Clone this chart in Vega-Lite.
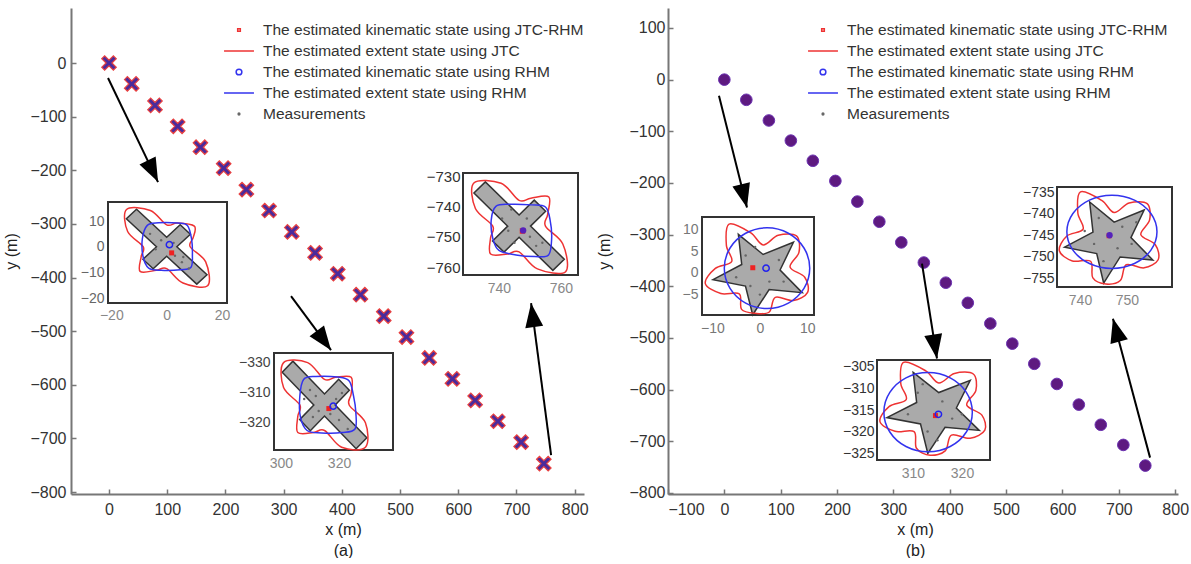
{
"$schema": "https://vega.github.io/schema/vega-lite/v6.json",
"background": "white",
"padding": {"left": 3, "top": 8, "right": 0, "bottom": 0},
"bounds": "flush",
"spacing": 84,
"datasets": {
"traj": [{"x":0,"y":0},{"x":39,"y":-39},{"x":79,"y":-79},{"x":118,"y":-118},{"x":157,"y":-157},{"x":197,"y":-196},{"x":236,"y":-236},{"x":275,"y":-275},{"x":314,"y":-315},{"x":354,"y":-354},{"x":393,"y":-393},{"x":432,"y":-432},{"x":472,"y":-472},{"x":511,"y":-511},{"x":550,"y":-550},{"x":590,"y":-589},{"x":629,"y":-629},{"x":668,"y":-668},{"x":708,"y":-707},{"x":747,"y":-747}],
"arrowsA": [{"arrow":"a1","k":0,"x":-1.7,"y":-28},{"arrow":"a1","k":1,"x":84.2,"y":-222},{"arrow":"a2","k":0,"x":312.7,"y":-434.7},{"arrow":"a2","k":1,"x":381.4,"y":-535.4},{"arrow":"a3","k":0,"x":759.5,"y":-731},{"arrow":"a3","k":1,"x":725.1,"y":-447.8}],
"headsA": [{"arrow":"a1","x":75.3,"y":-201.9},{"arrow":"a2","x":369.2,"y":-517.5},{"arrow":"a3","x":727.8,"y":-470}],
"arrowsB": [{"arrow":"b1","k":0,"x":-9.6,"y":-31},{"arrow":"b1","k":1,"x":40.1,"y":-247.6},{"arrow":"b2","k":0,"x":350.7,"y":-356.1},{"arrow":"b2","k":1,"x":377.3,"y":-539.7},{"arrow":"b3","k":0,"x":755.4,"y":-731.6},{"arrow":"b3","k":1,"x":689.6,"y":-462.6}],
"headsB": [{"arrow":"b1","x":35,"y":-225.3},{"arrow":"b2","x":373.9,"y":-516.6},{"arrow":"b3","x":695.1,"y":-484.7}],
"legend": [{"series":"The estimated kinematic state using JTC-RHM"},{"series":"The estimated extent state using JTC"},{"series":"The estimated kinematic state using RHM"},{"series":"The estimated extent state using RHM"},{"series":"Measurements"}],
"a1": [
{"part":"box","x":-21.2,"x2":21.8,"y":-21.9,"y2":17.4},
{"part":"shape","i":0,"x":10.89,"y":-14.57},{"part":"shape","i":1,"x":14.57,"y":-10.89},{"part":"shape","i":2,"x":3.68,"y":0},{"part":"shape","i":3,"x":8.56,"y":4.88},{"part":"shape","i":4,"x":4.88,"y":8.56},{"part":"shape","i":5,"x":0,"y":3.68},{"part":"shape","i":6,"x":-10.89,"y":14.57},{"part":"shape","i":7,"x":-14.57,"y":10.89},{"part":"shape","i":8,"x":-3.68,"y":0},{"part":"shape","i":9,"x":-8.56,"y":-4.88},{"part":"shape","i":10,"x":-4.88,"y":-8.56},{"part":"shape","i":11,"x":0,"y":-3.68},
{"part":"red","i":0,"x":14.8,"y":-15.2},{"part":"red","i":1,"x":14.1,"y":-5.9},{"part":"red","i":2,"x":8.5,"y":0},{"part":"red","i":3,"x":9.6,"y":3.6},{"part":"red","i":4,"x":10,"y":8},{"part":"red","i":5,"x":3.8,"y":9.2},{"part":"red","i":6,"x":0,"y":8.5},{"part":"red","i":7,"x":-5.9,"y":14.1},{"part":"red","i":8,"x":-14.5,"y":14.5},{"part":"red","i":9,"x":-14.1,"y":5.9},{"part":"red","i":10,"x":-8.5,"y":0},{"part":"red","i":11,"x":-9.2,"y":-3.8},{"part":"red","i":12,"x":-9.6,"y":-9.6},{"part":"red","i":13,"x":-3.8,"y":-9.2},{"part":"red","i":14,"x":0,"y":-8.5},{"part":"red","i":15,"x":5.9,"y":-14.1},
{"part":"blue","i":0,"x":9.3,"y":-3},{"part":"blue","i":1,"x":9,"y":3},{"part":"blue","i":2,"x":7.5,"y":8.3},{"part":"blue","i":3,"x":4,"y":9.2},{"part":"blue","i":4,"x":-3,"y":9.3},{"part":"blue","i":5,"x":-7,"y":8.3},{"part":"blue","i":6,"x":-8.8,"y":3},{"part":"blue","i":7,"x":-8.5,"y":-4},{"part":"blue","i":8,"x":-6.5,"y":-8.3},{"part":"blue","i":9,"x":-2,"y":-9.2},{"part":"blue","i":10,"x":5,"y":-9},{"part":"blue","i":11,"x":8.8,"y":-8},
{"part":"meas","x":3,"y":-3.5},{"part":"meas","x":5.5,"y":-6},{"part":"meas","x":8,"y":-8.5},{"part":"meas","x":-2,"y":2.5},{"part":"meas","x":2.5,"y":1.5},{"part":"meas","x":-4,"y":-1},{"part":"meas","x":6,"y":-4},{"part":"meas","x":-6,"y":5},
{"part":"kr","x":1.8,"y":-2.4},{"part":"kb","x":1,"y":0.8}
],
"a2": [
{"part":"box","x":297.6,"x2":338.6,"y":-329,"y2":-296.7},
{"part":"shape","i":0,"x":325.89,"y":-328.57},{"part":"shape","i":1,"x":329.57,"y":-324.89},{"part":"shape","i":2,"x":318.68,"y":-314},{"part":"shape","i":3,"x":323.56,"y":-309.12},{"part":"shape","i":4,"x":319.88,"y":-305.44},{"part":"shape","i":5,"x":315,"y":-310.32},{"part":"shape","i":6,"x":304.11,"y":-299.43},{"part":"shape","i":7,"x":300.43,"y":-303.11},{"part":"shape","i":8,"x":311.32,"y":-314},{"part":"shape","i":9,"x":306.44,"y":-318.88},{"part":"shape","i":10,"x":310.12,"y":-322.56},{"part":"shape","i":11,"x":315,"y":-317.68},
{"part":"red","i":0,"x":329.1,"y":-328.1},{"part":"red","i":1,"x":329.1,"y":-319.9},{"part":"red","i":2,"x":323.5,"y":-314},{"part":"red","i":3,"x":324.2,"y":-310.2},{"part":"red","i":4,"x":324.2,"y":-304.8},{"part":"red","i":5,"x":318.8,"y":-304.8},{"part":"red","i":6,"x":315,"y":-305.5},{"part":"red","i":7,"x":309.2,"y":-299.9},{"part":"red","i":8,"x":300.9,"y":-299.9},{"part":"red","i":9,"x":300.9,"y":-308.2},{"part":"red","i":10,"x":306.5,"y":-314},{"part":"red","i":11,"x":305.8,"y":-317.8},{"part":"red","i":12,"x":305.8,"y":-323.2},{"part":"red","i":13,"x":311.2,"y":-323.2},{"part":"red","i":14,"x":315,"y":-322.5},{"part":"red","i":15,"x":320.9,"y":-328.1},
{"part":"blue","i":0,"x":319.5,"y":-304.7},{"part":"blue","i":1,"x":312,"y":-304.5},{"part":"blue","i":2,"x":307.8,"y":-305.5},{"part":"blue","i":3,"x":306.5,"y":-311},{"part":"blue","i":4,"x":306.7,"y":-318},{"part":"blue","i":5,"x":309,"y":-322.5},{"part":"blue","i":6,"x":314,"y":-323.3},{"part":"blue","i":7,"x":321,"y":-323.2},{"part":"blue","i":8,"x":325.5,"y":-322},{"part":"blue","i":9,"x":325.8,"y":-316.5},{"part":"blue","i":10,"x":325,"y":-311},{"part":"blue","i":11,"x":323.5,"y":-306},
{"part":"meas","x":310,"y":-309},{"part":"meas","x":312,"y":-311},{"part":"meas","x":317,"y":-317},{"part":"meas","x":320,"y":-319},{"part":"meas","x":323,"y":-322},{"part":"meas","x":308,"y":-312},{"part":"meas","x":313,"y":-316},{"part":"meas","x":319,"y":-312},{"part":"meas","x":311,"y":-318},{"part":"meas","x":321,"y":-310},
{"part":"kr","x":316.5,"y":-315.2},{"part":"kb","x":318,"y":-314.4}
],
"a3": [
{"part":"box","x":728.4,"x2":765.5,"y":-762.6,"y2":-729},
{"part":"shape","i":0,"x":757.39,"y":-761.07},{"part":"shape","i":1,"x":761.07,"y":-757.39},{"part":"shape","i":2,"x":750.18,"y":-746.5},{"part":"shape","i":3,"x":755.06,"y":-741.62},{"part":"shape","i":4,"x":751.38,"y":-737.94},{"part":"shape","i":5,"x":746.5,"y":-742.82},{"part":"shape","i":6,"x":735.61,"y":-731.93},{"part":"shape","i":7,"x":731.93,"y":-735.61},{"part":"shape","i":8,"x":742.82,"y":-746.5},{"part":"shape","i":9,"x":737.94,"y":-751.38},{"part":"shape","i":10,"x":741.62,"y":-755.06},{"part":"shape","i":11,"x":746.5,"y":-750.18},
{"part":"red","i":0,"x":761.5,"y":-761.5},{"part":"red","i":1,"x":760.6,"y":-752.4},{"part":"red","i":2,"x":755,"y":-746.5},{"part":"red","i":3,"x":755.7,"y":-742.7},{"part":"red","i":4,"x":756.1,"y":-736.9},{"part":"red","i":5,"x":750.3,"y":-737.3},{"part":"red","i":6,"x":746.5,"y":-738},{"part":"red","i":7,"x":740.7,"y":-732.4},{"part":"red","i":8,"x":731.9,"y":-732.3},{"part":"red","i":9,"x":732.4,"y":-740.7},{"part":"red","i":10,"x":738,"y":-746.5},{"part":"red","i":11,"x":737.3,"y":-750.3},{"part":"red","i":12,"x":737.3,"y":-755.7},{"part":"red","i":13,"x":742.7,"y":-755.7},{"part":"red","i":14,"x":746.5,"y":-755},{"part":"red","i":15,"x":752.4,"y":-760.6},
{"part":"blue","i":0,"x":750.5,"y":-739.5},{"part":"blue","i":1,"x":743.5,"y":-739.3},{"part":"blue","i":2,"x":739,"y":-740},{"part":"blue","i":3,"x":737.5,"y":-744.5},{"part":"blue","i":4,"x":738,"y":-750.5},{"part":"blue","i":5,"x":740,"y":-754.5},{"part":"blue","i":6,"x":745.5,"y":-756},{"part":"blue","i":7,"x":751.5,"y":-756.5},{"part":"blue","i":8,"x":756,"y":-756},{"part":"blue","i":9,"x":757,"y":-750.5},{"part":"blue","i":10,"x":756.5,"y":-744.5},{"part":"blue","i":11,"x":755,"y":-740.2},
{"part":"meas","x":744,"y":-741},{"part":"meas","x":749,"y":-744},{"part":"meas","x":752,"y":-753},{"part":"meas","x":754,"y":-752},{"part":"meas","x":741,"y":-744},{"part":"meas","x":745,"y":-752},{"part":"meas","x":750,"y":-750},{"part":"meas","x":743,"y":-748},
{"part":"kr","x":747.6,"y":-748.1},{"part":"kb","x":747.8,"y":-747.9}
],
"b1": [
{"part":"box","x":-12.2,"x2":11.4,"y":-9.7,"y2":12.9},
{"part":"shape","i":0,"x":-4.54,"y":8.91},{"part":"shape","i":1,"x":0.67,"y":4.25},{"part":"shape","i":2,"x":7.07,"y":7.07},{"part":"shape","i":3,"x":4.25,"y":0.67},{"part":"shape","i":4,"x":8.91,"y":-4.54},{"part":"shape","i":5,"x":1.95,"y":-3.83},{"part":"shape","i":6,"x":-1.52,"y":-9.65},{"part":"shape","i":7,"x":-3.04,"y":-3.04},{"part":"shape","i":8,"x":-9.88,"y":-1.56},{"part":"shape","i":9,"x":-3.83,"y":1.95},
{"part":"red","i":0,"x":-6.5,"y":11.26},{"part":"red","i":1,"x":-7.06,"y":6.36},{"part":"red","i":2,"x":-5.94,"y":2.64},{"part":"red","i":3,"x":-9.45,"y":0.99},{"part":"red","i":4,"x":-11.5,"y":-2.45},{"part":"red","i":5,"x":-8.23,"y":-4.75},{"part":"red","i":6,"x":-4.35,"y":-4.83},{"part":"red","i":7,"x":-3.86,"y":-8.4},{"part":"red","i":8,"x":-0.99,"y":-9.3},{"part":"red","i":9,"x":1.98,"y":-9},{"part":"red","i":10,"x":3.25,"y":-5.63},{"part":"red","i":11,"x":7.06,"y":-6.36},{"part":"red","i":12,"x":10.05,"y":-4.47},{"part":"red","i":13,"x":9.45,"y":-0.99},{"part":"red","i":14,"x":6.36,"y":1.35},{"part":"red","i":15,"x":8.23,"y":4.75},{"part":"red","i":16,"x":7.7,"y":8.55},{"part":"red","i":17,"x":3.86,"y":8.68},{"part":"red","i":18,"x":0.68,"y":6.47},{"part":"red","i":19,"x":-1.98,"y":9.29},
{"part":"blue","i":0,"x":10.5,"y":1.1},{"part":"blue","i":1,"x":9.29,"y":5.75},{"part":"blue","i":2,"x":6,"y":9.15},{"part":"blue","i":3,"x":1.5,"y":10.4},{"part":"blue","i":4,"x":-3,"y":9.15},{"part":"blue","i":5,"x":-6.29,"y":5.75},{"part":"blue","i":6,"x":-7.5,"y":1.1},{"part":"blue","i":7,"x":-6.29,"y":-3.55},{"part":"blue","i":8,"x":-3,"y":-6.95},{"part":"blue","i":9,"x":1.5,"y":-8.2},{"part":"blue","i":10,"x":6,"y":-6.95},{"part":"blue","i":11,"x":9.29,"y":-3.55},
{"part":"meas","x":-3,"y":4},{"part":"meas","x":2,"y":-2},{"part":"meas","x":-5,"y":-1},{"part":"meas","x":4,"y":3},{"part":"meas","x":0,"y":-5},{"part":"meas","x":-1,"y":6},{"part":"meas","x":5,"y":-2},{"part":"meas","x":-2,"y":-3},
{"part":"kr","x":-1.5,"y":1.2},{"part":"kb","x":1.3,"y":1.1}
],
"b2": [
{"part":"box","x":302.7,"x2":325.7,"y":-326.6,"y2":-303.4},
{"part":"shape","i":0,"x":310.06,"y":-306.29},{"part":"shape","i":1,"x":315.27,"y":-310.95},{"part":"shape","i":2,"x":321.67,"y":-308.13},{"part":"shape","i":3,"x":318.85,"y":-314.53},{"part":"shape","i":4,"x":323.51,"y":-319.74},{"part":"shape","i":5,"x":316.55,"y":-319.03},{"part":"shape","i":6,"x":313.04,"y":-325.08},{"part":"shape","i":7,"x":311.56,"y":-318.24},{"part":"shape","i":8,"x":304.72,"y":-316.76},{"part":"shape","i":9,"x":310.77,"y":-313.25},
{"part":"red","i":0,"x":308.1,"y":-303.94},{"part":"red","i":1,"x":307.54,"y":-308.84},{"part":"red","i":2,"x":308.66,"y":-312.56},{"part":"red","i":3,"x":305.15,"y":-314.21},{"part":"red","i":4,"x":303.3,"y":-317.7},{"part":"red","i":5,"x":306.37,"y":-319.95},{"part":"red","i":6,"x":310.25,"y":-320.03},{"part":"red","i":7,"x":310.74,"y":-323.88},{"part":"red","i":8,"x":313.5,"y":-325.5},{"part":"red","i":9,"x":316.58,"y":-324.49},{"part":"red","i":10,"x":317.85,"y":-320.83},{"part":"red","i":11,"x":321.66,"y":-321.56},{"part":"red","i":12,"x":324.65,"y":-319.67},{"part":"red","i":13,"x":324.05,"y":-316.19},{"part":"red","i":14,"x":320.96,"y":-313.85},{"part":"red","i":15,"x":322.83,"y":-310.45},{"part":"red","i":16,"x":322.3,"y":-306.65},{"part":"red","i":17,"x":318.46,"y":-306.52},{"part":"red","i":18,"x":315.28,"y":-308.73},{"part":"red","i":19,"x":312.62,"y":-305.91},
{"part":"blue","i":0,"x":322.1,"y":-315.5},{"part":"blue","i":1,"x":320.89,"y":-310.9},{"part":"blue","i":2,"x":317.6,"y":-307.53},{"part":"blue","i":3,"x":313.1,"y":-306.3},{"part":"blue","i":4,"x":308.6,"y":-307.53},{"part":"blue","i":5,"x":305.31,"y":-310.9},{"part":"blue","i":6,"x":304.1,"y":-315.5},{"part":"blue","i":7,"x":305.31,"y":-320.1},{"part":"blue","i":8,"x":308.6,"y":-323.47},{"part":"blue","i":9,"x":313.1,"y":-324.7},{"part":"blue","i":10,"x":317.6,"y":-323.47},{"part":"blue","i":11,"x":320.89,"y":-320.1},
{"part":"meas","x":311,"y":-311},{"part":"meas","x":316,"y":-313},{"part":"meas","x":318,"y":-317},{"part":"meas","x":313,"y":-320},{"part":"meas","x":309,"y":-316},{"part":"meas","x":320,"y":-316},{"part":"meas","x":315,"y":-322},{"part":"meas","x":312,"y":-309},
{"part":"kr","x":314.6,"y":-316.3},{"part":"kb","x":315.2,"y":-316}
],
"b3": [
{"part":"box","x":735.1,"x2":759.6,"y":-757,"y2":-733.8},
{"part":"shape","i":0,"x":742.06,"y":-737.29},{"part":"shape","i":1,"x":747.27,"y":-741.95},{"part":"shape","i":2,"x":753.67,"y":-739.13},{"part":"shape","i":3,"x":750.85,"y":-745.53},{"part":"shape","i":4,"x":755.51,"y":-750.74},{"part":"shape","i":5,"x":748.55,"y":-750.03},{"part":"shape","i":6,"x":745.04,"y":-756.08},{"part":"shape","i":7,"x":743.56,"y":-749.24},{"part":"shape","i":8,"x":736.72,"y":-747.76},{"part":"shape","i":9,"x":742.77,"y":-744.25},
{"part":"red","i":0,"x":740.1,"y":-734.94},{"part":"red","i":1,"x":739.54,"y":-739.84},{"part":"red","i":2,"x":740.66,"y":-743.56},{"part":"red","i":3,"x":737.15,"y":-745.21},{"part":"red","i":4,"x":735.6,"y":-748.6},{"part":"red","i":5,"x":738.37,"y":-750.95},{"part":"red","i":6,"x":742.25,"y":-751.03},{"part":"red","i":7,"x":742.74,"y":-754.88},{"part":"red","i":8,"x":745.5,"y":-756.3},{"part":"red","i":9,"x":748.58,"y":-755.49},{"part":"red","i":10,"x":749.85,"y":-751.83},{"part":"red","i":11,"x":753.66,"y":-752.56},{"part":"red","i":12,"x":756.65,"y":-750.67},{"part":"red","i":13,"x":756.05,"y":-747.19},{"part":"red","i":14,"x":752.96,"y":-744.85},{"part":"red","i":15,"x":754.83,"y":-741.45},{"part":"red","i":16,"x":754.3,"y":-737.65},{"part":"red","i":17,"x":750.46,"y":-737.52},{"part":"red","i":18,"x":747.28,"y":-739.73},{"part":"red","i":19,"x":744.62,"y":-736.91},
{"part":"blue","i":0,"x":756.4,"y":-744.2},{"part":"blue","i":1,"x":755.11,"y":-739.95},{"part":"blue","i":2,"x":751.6,"y":-736.84},{"part":"blue","i":3,"x":746.8,"y":-735.7},{"part":"blue","i":4,"x":742,"y":-736.84},{"part":"blue","i":5,"x":738.49,"y":-739.95},{"part":"blue","i":6,"x":737.2,"y":-744.2},{"part":"blue","i":7,"x":738.49,"y":-748.45},{"part":"blue","i":8,"x":742,"y":-751.56},{"part":"blue","i":9,"x":746.8,"y":-752.7},{"part":"blue","i":10,"x":751.6,"y":-751.56},{"part":"blue","i":11,"x":755.11,"y":-748.45},
{"part":"meas","x":744,"y":-741},{"part":"meas","x":749,"y":-743},{"part":"meas","x":748,"y":-748},{"part":"meas","x":743,"y":-747},{"part":"meas","x":751,"y":-747},{"part":"meas","x":745,"y":-751},{"part":"meas","x":741,"y":-744},{"part":"meas","x":752,"y":-742},
{"part":"kr","x":746.2,"y":-745.1},{"part":"kb","x":746.3,"y":-745}
]
},
"hconcat": [
{
"width": 513, "height": 486,
"resolve": {"scale": {"x": "independent", "y": "independent"}},
"layer": [
{
"encoding": {
"x": {"field": "x", "type": "quantitative", "scale": {"domain": [-65.3, 816], "nice": false, "zero": false},
 "axis": {"values": [0,100,200,300,400,500,600,700,800], "title": ["x (m)", "(a)"], "titleX": 272, "labelFontSize": 16, "labelColor": "#333", "domainColor": "#777", "domainWidth": 2, "tickColor": "#777", "tickSize": -5, "tickWidth": 1.5, "labelPadding": 12, "titleFontSize": 16, "titleFontWeight": "normal", "titleColor": "#222", "titleLineHeight": 21, "titlePadding": 4, "grid": false}},
"y": {"field": "y", "type": "quantitative", "scale": {"domain": [-803.7, 102.6], "nice": false, "zero": false},
 "axis": {"values": [0,-100,-200,-300,-400,-500,-600,-700,-800], "title": "y (m)", "labelFontSize": 16, "labelColor": "#333", "domainColor": "#777", "domainWidth": 2, "tickColor": "#777", "tickSize": -5, "tickWidth": 1.5, "labelPadding": 10, "titleFontSize": 16, "titleFontWeight": "normal", "titleColor": "#222", "titlePadding": 10, "grid": false}}
},
"layer": [
{"data": {"name": "traj"}, "mark": {"type": "point", "shape": "M-1,-0.6L-0.6,-1L0,-0.4L0.6,-1L1,-0.6L0.4,0L1,0.6L0.6,1L0,0.4L-0.6,1L-1,0.6L-0.4,0Z", "size": 210, "filled": true, "fill": "#4b2b9b", "stroke": "#e84040", "strokeWidth": 1.2, "opacity": 1}},
{"data": {"name": "arrowsA"}, "mark": {"type": "line", "stroke": "black", "strokeWidth": 2}, "encoding": {"detail": {"field": "arrow", "type": "nominal"}, "order": {"field": "k", "type": "quantitative"}}},
{"data": {"name": "headsA"}, "transform": [{"filter": "datum.arrow == 'a1'"}], "mark": {"type": "point", "shape": "M0,-1L0.75,1L-0.75,1Z", "size": 576, "angle": 154, "filled": true, "color": "black", "opacity": 1}},
{"data": {"name": "headsA"}, "transform": [{"filter": "datum.arrow == 'a2'"}], "mark": {"type": "point", "shape": "M0,-1L0.75,1L-0.75,1Z", "size": 576, "angle": 143.5, "filled": true, "color": "black", "opacity": 1}},
{"data": {"name": "headsA"}, "transform": [{"filter": "datum.arrow == 'a3'"}], "mark": {"type": "point", "shape": "M0,-1L0.75,1L-0.75,1Z", "size": 576, "angle": -7.5, "filled": true, "color": "black", "opacity": 1}},
{"data": {"name": "legend"}, "transform": [{"filter": "false"}], "mark": {"type": "point", "filled": false, "strokeWidth": 1.5, "size": 484, "opacity": 1},
 "encoding": {
  "color": {"field": "series", "type": "nominal", "scale": {"domain": ["The estimated kinematic state using JTC-RHM","The estimated extent state using JTC","The estimated kinematic state using RHM","The estimated extent state using RHM","Measurements"], "range": ["#ee3333","#ee3333","#3333ee","#3333ee","#666666"]}, "legend": {"orient": "none", "legendX": 156, "legendY": 10, "title": null, "symbolSize": 484}},
  "shape": {"field": "series", "type": "nominal", "scale": {"domain": ["The estimated kinematic state using JTC-RHM","The estimated extent state using JTC","The estimated kinematic state using RHM","The estimated extent state using RHM","Measurements"], "range": ["M-0.12,-0.12L0.12,-0.12L0.12,0.12L-0.12,0.12Z","M-1.36,0L1.36,0","M0.26,0A0.26,0.26 0 1,1 -0.26,0A0.26,0.26 0 1,1 0.26,0Z","M-1.36,0L1.36,0","M0.08,0A0.08,0.08 0 1,1 -0.08,0A0.08,0.08 0 1,1 0.08,0Z"]}, "legend": {"orient": "none", "legendX": 156, "legendY": 10, "title": null, "symbolSize": 484}}
 }}
]
},
{
"data": {"name": "a1"},
"encoding": {
"x": {"field": "x", "type": "quantitative", "scale": {"domain": [-21.2, 21.8], "range": [37, 156], "nice": false, "zero": false}, "axis": {"orient": "bottom", "offset": -191, "values": [-20,0,20], "domain": false, "ticks": false, "grid": false, "labelPadding": 5, "labelColor": "#888", "labelFontSize": 14, "title": null}},
"y": {"field": "y", "type": "quantitative", "scale": {"domain": [-21.9, 17.4], "range": [295, 194], "nice": false, "zero": false}, "axis": {"orient": "left", "offset": -37, "values": [10,0,-10,-20], "domain": false, "ticks": false, "grid": false, "labelPadding": 4, "labelColor": "#666", "labelFontSize": 14, "title": null}}
},
"layer": [
{"transform": [{"filter": "datum.part == 'box'"}], "mark": {"type": "rect", "fill": "white", "stroke": "#333", "strokeWidth": 2}, "encoding": {"x2": {"field": "x2"}, "y2": {"field": "y2"}}},
{"transform": [{"filter": "datum.part == 'shape'"}], "mark": {"type": "line", "interpolate": "linear-closed", "fill": "#aaaaaa", "stroke": "#333", "strokeWidth": 1.5}, "encoding": {"order": {"field": "i", "type": "quantitative"}}},
{"transform": [{"filter": "datum.part == 'red'"}], "mark": {"type": "line", "interpolate": "cardinal-closed", "stroke": "#ee3333", "strokeWidth": 1.5}, "encoding": {"order": {"field": "i", "type": "quantitative"}}},
{"transform": [{"filter": "datum.part == 'blue'"}], "mark": {"type": "line", "interpolate": "cardinal-closed", "stroke": "#3333ee", "strokeWidth": 1.5}, "encoding": {"order": {"field": "i", "type": "quantitative"}}},
{"transform": [{"filter": "datum.part == 'meas'"}], "mark": {"type": "point", "shape": "circle", "filled": true, "color": "#666", "size": 6, "opacity": 1}},
{"transform": [{"filter": "datum.part == 'kr'"}], "mark": {"type": "point", "shape": "square", "filled": true, "color": "#ee2222", "size": 25, "opacity": 1}},
{"transform": [{"filter": "datum.part == 'kb'"}], "mark": {"type": "point", "shape": "circle", "filled": false, "color": "#2222ee", "size": 40, "strokeWidth": 1.5, "opacity": 1}}
]
},
{
"data": {"name": "a2"},
"encoding": {
"x": {"field": "x", "type": "quantitative", "scale": {"domain": [297.6, 338.6], "range": [203, 322], "nice": false, "zero": false}, "axis": {"orient": "bottom", "offset": -44, "values": [300,320], "domain": false, "ticks": false, "grid": false, "labelPadding": 6, "labelColor": "#888", "labelFontSize": 14, "title": null}},
"y": {"field": "y", "type": "quantitative", "scale": {"domain": [-329, -296.7], "range": [442, 345], "nice": false, "zero": false}, "axis": {"orient": "left", "offset": -203, "values": [-300,-310,-320,-330], "labelExpr": "datum.value == -300 ? '−330' : datum.label", "domain": false, "ticks": false, "grid": false, "labelPadding": 4, "labelColor": "#444", "labelFontSize": 14, "title": null}}
},
"layer": [
{"transform": [{"filter": "datum.part == 'box'"}], "mark": {"type": "rect", "fill": "white", "stroke": "#333", "strokeWidth": 2}, "encoding": {"x2": {"field": "x2"}, "y2": {"field": "y2"}}},
{"transform": [{"filter": "datum.part == 'shape'"}], "mark": {"type": "line", "interpolate": "linear-closed", "fill": "#aaaaaa", "stroke": "#333", "strokeWidth": 1.5}, "encoding": {"order": {"field": "i", "type": "quantitative"}}},
{"transform": [{"filter": "datum.part == 'red'"}], "mark": {"type": "line", "interpolate": "cardinal-closed", "stroke": "#ee3333", "strokeWidth": 1.5}, "encoding": {"order": {"field": "i", "type": "quantitative"}}},
{"transform": [{"filter": "datum.part == 'blue'"}], "mark": {"type": "line", "interpolate": "cardinal-closed", "stroke": "#3333ee", "strokeWidth": 1.5}, "encoding": {"order": {"field": "i", "type": "quantitative"}}},
{"transform": [{"filter": "datum.part == 'meas'"}], "mark": {"type": "point", "shape": "circle", "filled": true, "color": "#666", "size": 6, "opacity": 1}},
{"transform": [{"filter": "datum.part == 'kr'"}], "mark": {"type": "point", "shape": "square", "filled": true, "color": "#ee2222", "size": 25, "opacity": 1}},
{"transform": [{"filter": "datum.part == 'kb'"}], "mark": {"type": "point", "shape": "circle", "filled": false, "color": "#2222ee", "size": 40, "strokeWidth": 1.5, "opacity": 1}}
]
},
{
"data": {"name": "a3"},
"encoding": {
"x": {"field": "x", "type": "quantitative", "scale": {"domain": [728.4, 765.5], "range": [392, 507], "nice": false, "zero": false}, "axis": {"orient": "bottom", "offset": -219, "values": [740,760], "domain": false, "ticks": false, "grid": false, "labelPadding": 6, "labelColor": "#888", "labelFontSize": 14, "title": null}},
"y": {"field": "y", "type": "quantitative", "scale": {"domain": [-762.6, -729], "range": [267, 165], "nice": false, "zero": false}, "axis": {"orient": "left", "offset": -392, "values": [-730,-740,-750,-760], "domain": false, "ticks": false, "grid": false, "labelPadding": 3, "labelColor": "#333", "labelFontSize": 15, "title": null}}
},
"layer": [
{"transform": [{"filter": "datum.part == 'box'"}], "mark": {"type": "rect", "fill": "white", "stroke": "#333", "strokeWidth": 2}, "encoding": {"x2": {"field": "x2"}, "y2": {"field": "y2"}}},
{"transform": [{"filter": "datum.part == 'shape'"}], "mark": {"type": "line", "interpolate": "linear-closed", "fill": "#aaaaaa", "stroke": "#333", "strokeWidth": 1.5}, "encoding": {"order": {"field": "i", "type": "quantitative"}}},
{"transform": [{"filter": "datum.part == 'red'"}], "mark": {"type": "line", "interpolate": "cardinal-closed", "stroke": "#ee3333", "strokeWidth": 1.5}, "encoding": {"order": {"field": "i", "type": "quantitative"}}},
{"transform": [{"filter": "datum.part == 'blue'"}], "mark": {"type": "line", "interpolate": "cardinal-closed", "stroke": "#3333ee", "strokeWidth": 1.5}, "encoding": {"order": {"field": "i", "type": "quantitative"}}},
{"transform": [{"filter": "datum.part == 'meas'"}], "mark": {"type": "point", "shape": "circle", "filled": true, "color": "#666", "size": 6, "opacity": 1}},
{"transform": [{"filter": "datum.part == 'kr'"}], "mark": {"type": "point", "shape": "square", "filled": true, "color": "#ee2222", "size": 30, "opacity": 1}},
{"transform": [{"filter": "datum.part == 'kb'"}], "mark": {"type": "point", "shape": "circle", "filled": true, "color": "#5522bb", "size": 40, "opacity": 1}}
]
}
]
},
{
"width": 510, "height": 486,
"resolve": {"scale": {"x": "independent", "y": "independent"}},
"layer": [
{
"encoding": {
"x": {"field": "x", "type": "quantitative", "scale": {"domain": [-100, 805], "nice": false, "zero": false},
 "axis": {"values": [-100,0,100,200,300,400,500,600,700,800], "title": ["x (m)", "(b)"], "titleX": 247, "labelFontSize": 16, "labelColor": "#333", "domainColor": "#777", "domainWidth": 2, "tickColor": "#777", "tickSize": -5, "tickWidth": 1.5, "labelPadding": 12, "titleFontSize": 16, "titleFontWeight": "normal", "titleColor": "#222", "titleLineHeight": 21, "titlePadding": 4, "grid": false}},
"y": {"field": "y", "type": "quantitative", "scale": {"domain": [-802, 138.7], "nice": false, "zero": false},
 "axis": {"values": [100,0,-100,-200,-300,-400,-500,-600,-700,-800], "title": "y (m)", "labelFontSize": 16, "labelColor": "#333", "domainColor": "#777", "domainWidth": 2, "tickColor": "#777", "tickSize": -5, "tickWidth": 1.5, "labelPadding": 8, "titleFontSize": 16, "titleFontWeight": "normal", "titleColor": "#222", "titlePadding": 16, "grid": false}}
},
"layer": [
{"data": {"name": "traj"}, "mark": {"type": "point", "shape": "circle", "size": 135, "filled": true, "fill": "#5e1a80", "stroke": "#6a30b0", "strokeWidth": 1, "opacity": 1}},
{"data": {"name": "arrowsB"}, "mark": {"type": "line", "stroke": "black", "strokeWidth": 2}, "encoding": {"detail": {"field": "arrow", "type": "nominal"}, "order": {"field": "k", "type": "quantitative"}}},
{"data": {"name": "headsB"}, "transform": [{"filter": "datum.arrow == 'b1'"}], "mark": {"type": "point", "shape": "M0,-1L0.75,1L-0.75,1Z", "size": 576, "angle": 166, "filled": true, "color": "black", "opacity": 1}},
{"data": {"name": "headsB"}, "transform": [{"filter": "datum.arrow == 'b2'"}], "mark": {"type": "point", "shape": "M0,-1L0.75,1L-0.75,1Z", "size": 576, "angle": 171, "filled": true, "color": "black", "opacity": 1}},
{"data": {"name": "headsB"}, "transform": [{"filter": "datum.arrow == 'b3'"}], "mark": {"type": "point", "shape": "M0,-1L0.75,1L-0.75,1Z", "size": 576, "angle": -15, "filled": true, "color": "black", "opacity": 1}},
{"data": {"name": "legend"}, "transform": [{"filter": "false"}], "mark": {"type": "point", "filled": false, "strokeWidth": 1.5, "size": 484, "opacity": 1},
 "encoding": {
  "color": {"field": "series", "type": "nominal", "scale": {"domain": ["The estimated kinematic state using JTC-RHM","The estimated extent state using JTC","The estimated kinematic state using RHM","The estimated extent state using RHM","Measurements"], "range": ["#ee3333","#ee3333","#3333ee","#3333ee","#666666"]}, "legend": {"orient": "none", "legendX": 143, "legendY": 10, "title": null, "symbolSize": 484}},
  "shape": {"field": "series", "type": "nominal", "scale": {"domain": ["The estimated kinematic state using JTC-RHM","The estimated extent state using JTC","The estimated kinematic state using RHM","The estimated extent state using RHM","Measurements"], "range": ["M-0.12,-0.12L0.12,-0.12L0.12,0.12L-0.12,0.12Z","M-1.36,0L1.36,0","M0.26,0A0.26,0.26 0 1,1 -0.26,0A0.26,0.26 0 1,1 0.26,0Z","M-1.36,0L1.36,0","M0.08,0A0.08,0.08 0 1,1 -0.08,0A0.08,0.08 0 1,1 0.08,0Z"]}, "legend": {"orient": "none", "legendX": 143, "legendY": 10, "title": null, "symbolSize": 484}}
 }}
]
},
{
"data": {"name": "b1"},
"encoding": {
"x": {"field": "x", "type": "quantitative", "scale": {"domain": [-12.2, 11.4], "range": [34, 146], "nice": false, "zero": false}, "axis": {"orient": "bottom", "offset": -179, "values": [-10,0,10], "domain": false, "ticks": false, "grid": false, "labelPadding": 6, "labelColor": "#777", "labelFontSize": 14, "title": null}},
"y": {"field": "y", "type": "quantitative", "scale": {"domain": [-9.7, 12.9], "range": [307, 209], "nice": false, "zero": false}, "axis": {"orient": "left", "offset": -34, "values": [10,5,0,-5], "domain": false, "ticks": false, "grid": false, "labelPadding": 4, "labelColor": "#777", "labelFontSize": 14, "title": null}}
},
"layer": [
{"transform": [{"filter": "datum.part == 'box'"}], "mark": {"type": "rect", "fill": "white", "stroke": "#333", "strokeWidth": 2}, "encoding": {"x2": {"field": "x2"}, "y2": {"field": "y2"}}},
{"transform": [{"filter": "datum.part == 'shape'"}], "mark": {"type": "line", "interpolate": "linear-closed", "fill": "#aaaaaa", "stroke": "#333", "strokeWidth": 1.5}, "encoding": {"order": {"field": "i", "type": "quantitative"}}},
{"transform": [{"filter": "datum.part == 'red'"}], "mark": {"type": "line", "interpolate": "cardinal-closed", "stroke": "#ee3333", "strokeWidth": 1.5}, "encoding": {"order": {"field": "i", "type": "quantitative"}}},
{"transform": [{"filter": "datum.part == 'blue'"}], "mark": {"type": "line", "interpolate": "cardinal-closed", "stroke": "#3333ee", "strokeWidth": 1.5}, "encoding": {"order": {"field": "i", "type": "quantitative"}}},
{"transform": [{"filter": "datum.part == 'meas'"}], "mark": {"type": "point", "shape": "circle", "filled": true, "color": "#666", "size": 6, "opacity": 1}},
{"transform": [{"filter": "datum.part == 'kr'"}], "mark": {"type": "point", "shape": "square", "filled": true, "color": "#ee2222", "size": 25, "opacity": 1}},
{"transform": [{"filter": "datum.part == 'kb'"}], "mark": {"type": "point", "shape": "circle", "filled": false, "color": "#2222ee", "size": 40, "strokeWidth": 1.5, "opacity": 1}}
]
},
{
"data": {"name": "b2"},
"encoding": {
"x": {"field": "x", "type": "quantitative", "scale": {"domain": [302.7, 325.7], "range": [209, 322], "nice": false, "zero": false}, "axis": {"orient": "bottom", "offset": -34, "values": [310,320], "domain": false, "ticks": false, "grid": false, "labelPadding": 6, "labelColor": "#888", "labelFontSize": 14, "title": null}},
"y": {"field": "y", "type": "quantitative", "scale": {"domain": [-326.6, -303.4], "range": [452, 352], "nice": false, "zero": false}, "axis": {"orient": "left", "offset": -209, "values": [-305,-310,-315,-320,-325], "domain": false, "ticks": false, "grid": false, "labelPadding": 3, "labelColor": "#333", "labelFontSize": 14, "title": null}}
},
"layer": [
{"transform": [{"filter": "datum.part == 'box'"}], "mark": {"type": "rect", "fill": "white", "stroke": "#333", "strokeWidth": 2}, "encoding": {"x2": {"field": "x2"}, "y2": {"field": "y2"}}},
{"transform": [{"filter": "datum.part == 'shape'"}], "mark": {"type": "line", "interpolate": "linear-closed", "fill": "#aaaaaa", "stroke": "#333", "strokeWidth": 1.5}, "encoding": {"order": {"field": "i", "type": "quantitative"}}},
{"transform": [{"filter": "datum.part == 'red'"}], "mark": {"type": "line", "interpolate": "cardinal-closed", "stroke": "#ee3333", "strokeWidth": 1.5}, "encoding": {"order": {"field": "i", "type": "quantitative"}}},
{"transform": [{"filter": "datum.part == 'blue'"}], "mark": {"type": "line", "interpolate": "cardinal-closed", "stroke": "#3333ee", "strokeWidth": 1.5}, "encoding": {"order": {"field": "i", "type": "quantitative"}}},
{"transform": [{"filter": "datum.part == 'meas'"}], "mark": {"type": "point", "shape": "circle", "filled": true, "color": "#666", "size": 6, "opacity": 1}},
{"transform": [{"filter": "datum.part == 'kr'"}], "mark": {"type": "point", "shape": "square", "filled": true, "color": "#ee2222", "size": 25, "opacity": 1}},
{"transform": [{"filter": "datum.part == 'kb'"}], "mark": {"type": "point", "shape": "circle", "filled": false, "color": "#2222ee", "size": 40, "strokeWidth": 1.5, "opacity": 1}}
]
},
{
"data": {"name": "b3"},
"encoding": {
"x": {"field": "x", "type": "quantitative", "scale": {"domain": [735.1, 759.6], "range": [389, 504], "nice": false, "zero": false}, "axis": {"orient": "bottom", "offset": -207, "values": [740,750], "domain": false, "ticks": false, "grid": false, "labelPadding": 6, "labelColor": "#888", "labelFontSize": 14, "title": null}},
"y": {"field": "y", "type": "quantitative", "scale": {"domain": [-757, -733.8], "range": [279, 179], "nice": false, "zero": false}, "axis": {"orient": "left", "offset": -389, "values": [-735,-740,-745,-750,-755], "domain": false, "ticks": false, "grid": false, "labelPadding": 3, "labelColor": "#333", "labelFontSize": 14, "title": null}}
},
"layer": [
{"transform": [{"filter": "datum.part == 'box'"}], "mark": {"type": "rect", "fill": "white", "stroke": "#333", "strokeWidth": 2}, "encoding": {"x2": {"field": "x2"}, "y2": {"field": "y2"}}},
{"transform": [{"filter": "datum.part == 'shape'"}], "mark": {"type": "line", "interpolate": "linear-closed", "fill": "#aaaaaa", "stroke": "#333", "strokeWidth": 1.5}, "encoding": {"order": {"field": "i", "type": "quantitative"}}},
{"transform": [{"filter": "datum.part == 'red'"}], "mark": {"type": "line", "interpolate": "cardinal-closed", "stroke": "#ee3333", "strokeWidth": 1.5}, "encoding": {"order": {"field": "i", "type": "quantitative"}}},
{"transform": [{"filter": "datum.part == 'blue'"}], "mark": {"type": "line", "interpolate": "cardinal-closed", "stroke": "#3333ee", "strokeWidth": 1.5}, "encoding": {"order": {"field": "i", "type": "quantitative"}}},
{"transform": [{"filter": "datum.part == 'meas'"}], "mark": {"type": "point", "shape": "circle", "filled": true, "color": "#666", "size": 6, "opacity": 1}},
{"transform": [{"filter": "datum.part == 'kr'"}], "mark": {"type": "point", "shape": "square", "filled": true, "color": "#ee2222", "size": 25, "opacity": 1}},
{"transform": [{"filter": "datum.part == 'kb'"}], "mark": {"type": "point", "shape": "circle", "filled": true, "color": "#5522bb", "size": 40, "opacity": 1}}
]
}
]
}
],
"resolve": {"scale": {"x": "independent", "y": "independent", "color": "independent", "shape": "independent"}, "legend": {"color": "independent", "shape": "independent"}},
"config": {
"font": "Liberation Sans",
"view": {"stroke": null},
"axis": {"grid": false, "labelFont": "Liberation Sans", "titleFont": "Liberation Sans"},
"legend": {"labelFontSize": 15.5, "labelColor": "#333", "labelFont": "Liberation Sans", "rowPadding": 0, "labelOffset": 12, "symbolStrokeWidth": 1.5, "symbolSize": 484, "padding": 0, "labelLimit": 600}
}
}
